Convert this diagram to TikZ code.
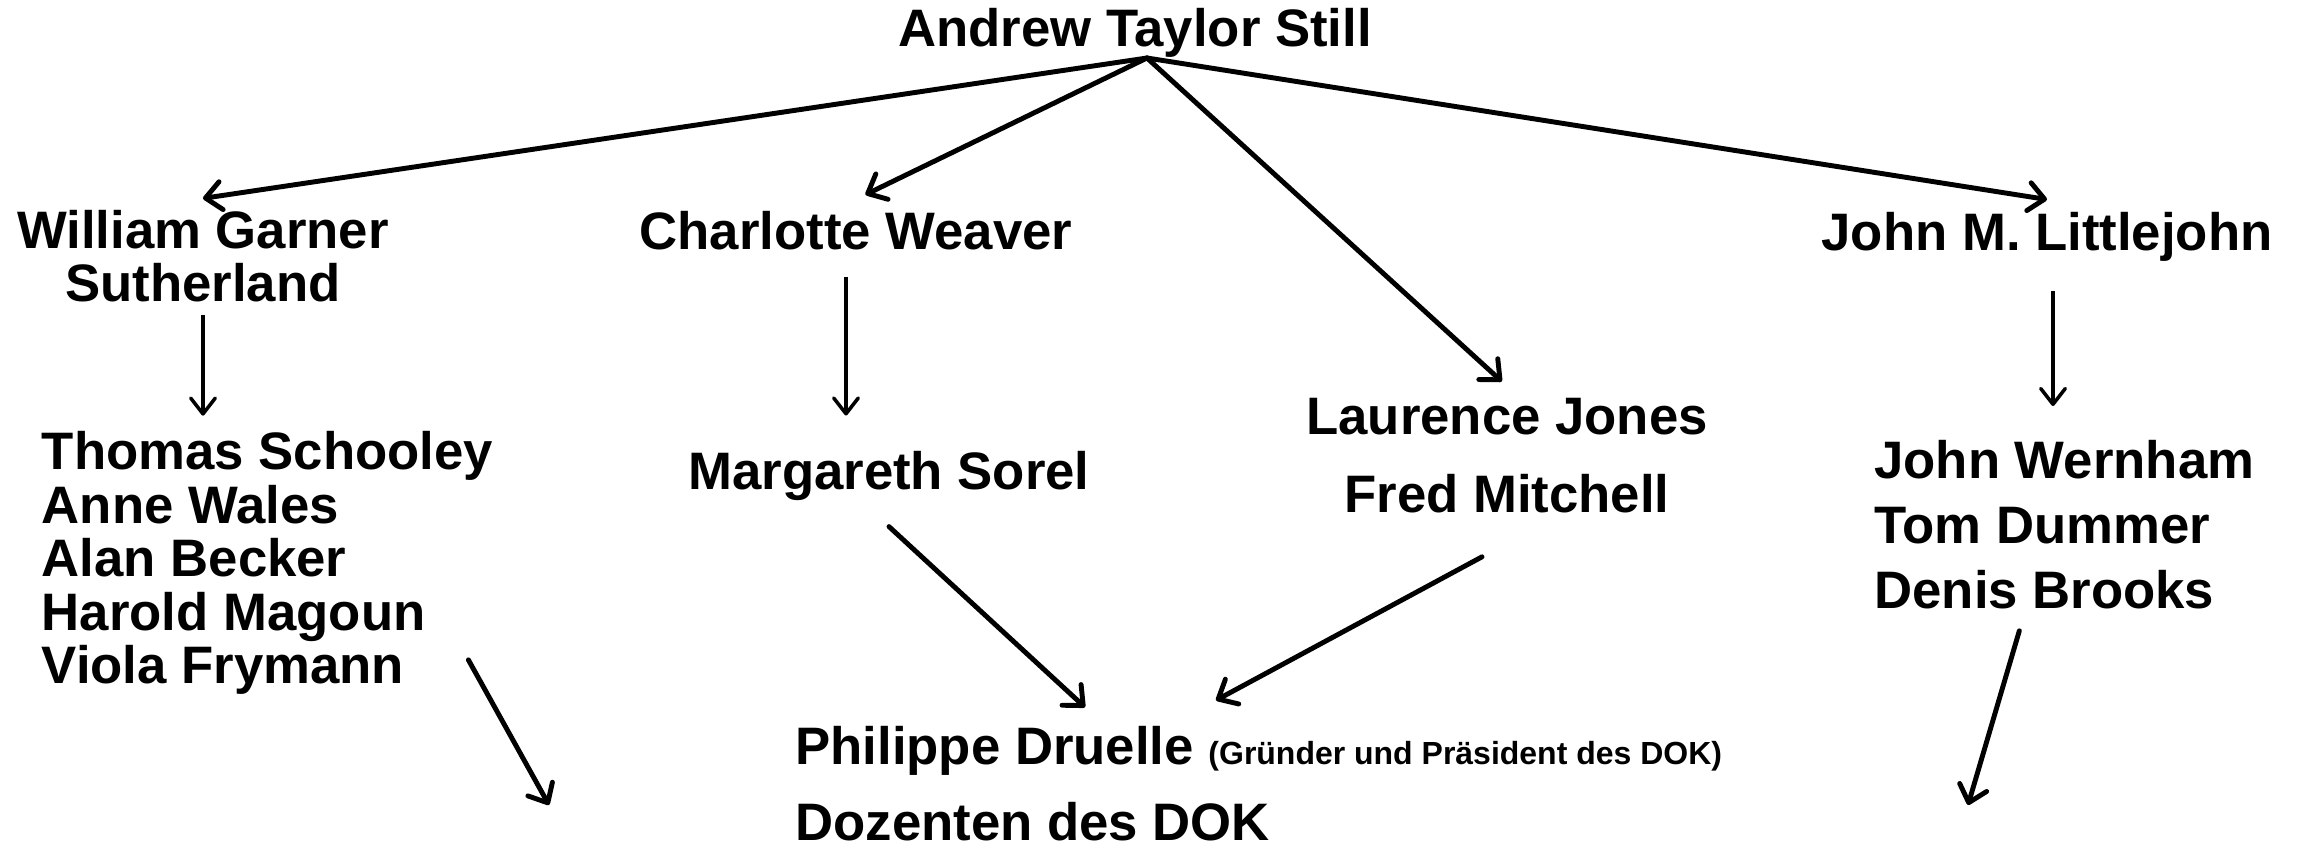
\documentclass[tikz,border=0pt]{standalone}
\usepackage{fontspec}
\setmainfont{Liberation Sans}
\usepackage{tikz}
\usetikzlibrary{arrows.meta, positioning, calc}

\begin{document}
\begin{tikzpicture}[
  person/.style={font=\fontsize{15}{15.2}\selectfont\bfseries, align=center},
  group/.style={font=\fontsize{15}{15.2}\selectfont\bfseries, align=left, anchor=west},
  arrow/.style={-{Straight Barb[length=4.5pt, width=8pt, round]}, line width=1.4pt, line cap=round},
  down/.style={-{Straight Barb[length=4.5pt, width=7pt, round]}, line width=1pt},
]
  \useasboundingbox (0,0) rectangle (23.03,-8.48);

  % Gründer
  \node[person] (ats) at (11.35, -0.33) {Andrew Taylor Still};
  \coordinate (fork) at ([xshift=0.12cm, yshift=0.12cm]ats.south);

  % Schüler
  \node[person] (wgs) at (2.03, -2.565) {William Garner\\[-0.2pt]Sutherland};
  \node[person] (cw) at (8.56, -2.31) {Charlotte Weaver};
  \node[person] (ljfm) at (15.07, -4.56) {Laurence Jones\\[7pt]Fred Mitchell};
  \node[person] (jml) at (20.47, -2.365) {John M. Littlejohn};

  % Nachfolger
  \node[group] (tsl) at (0.294, -5.63)
    {Thomas Schooley\\Anne Wales\\Alan Becker\\Harold Magoun\\Viola Frymann};
  \node[person] (ms) at (8.89, -4.755) {Margareth Sorel};
  \node[group] (wbl) at (18.62, -5.25)
    {John Wernham\\[3.3pt]Tom Dummer\\[3.3pt]Denis Brooks};

  % DOK
  \node[group] (pdd) at (7.83, -7.84)
    {Philippe Druelle {\fontsize{9.1}{10}\selectfont(Gründer und Präsident des DOK)}\\[6.4pt]Dozenten des DOK};

  \coordinate (leftout) at (5.49, -8.05);
  \coordinate (rightout) at (19.68, -8.05);

  % Verbindungen von oben
  \draw[arrow] (fork) -- (wgs.north);
  \draw[arrow, shorten >=3pt] (fork) -- (cw.north);
  \draw[arrow, shorten >=2pt] (fork) -- (ljfm.north);
  \draw[arrow] (fork) -- (jml.north);

  % senkrechte Pfeile
  \draw[down, shorten >=1pt] (wgs.south) -- (wgs.south |- tsl.north);
  \draw[down, shorten <=4pt, shorten >=6.5pt] ([xshift=-1mm]cw.south) -- ([xshift=-1mm]cw.south |- ms.north);
  \draw[down, shorten <=5pt, shorten >=6.3pt] ([xshift=0.6mm]jml.south) -- ([xshift=0.6mm]jml.south |- wbl.north);

  % Pfeile nach unten
  \draw[arrow] ([xshift=-0.37cm, yshift=0.47cm]tsl.south east) -- (leftout);
  \draw[arrow] ([yshift=-0.14cm]ms.south) -- ([xshift=3.02cm, yshift=0.07cm]pdd.north west);
  \draw[arrow] ([xshift=-0.25cm, yshift=-0.31cm]ljfm.south) -- ([xshift=4.33cm, yshift=0.14cm]pdd.north west);
  \draw[arrow] ([xshift=-0.45cm, yshift=-0.09cm]wbl.south) -- (rightout);
\end{tikzpicture}
\end{document}
